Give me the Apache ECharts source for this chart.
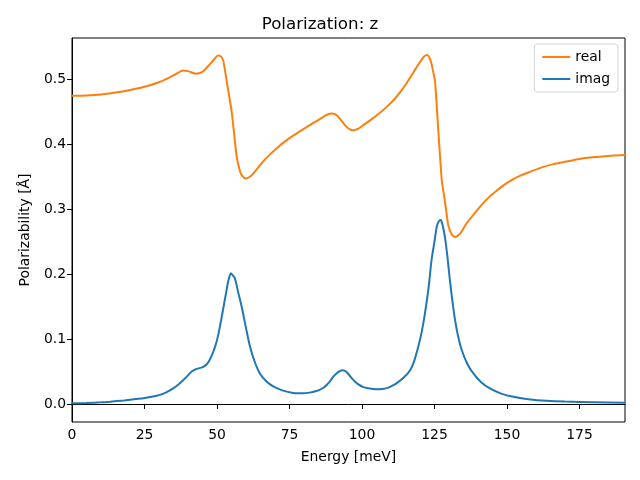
<!DOCTYPE html>
<html><head><meta charset="utf-8">
<script src="https://cdn.jsdelivr.net/npm/echarts@6/dist/echarts.min.js"></script>
<style>html,body{margin:0;padding:0;background:#fff}#c{width:640px;height:480px}</style>
</head><body><div id="c"></div>
<script>
const realX = [0,5,10,15,20,25,30,33,36,38.3,40,42.8,45,47,49,50.4,51.5,52.2,53.3,54.2,55.1,56,56.8,57.7,58.5,60,61.5,63,64.8,66.5,68.3,70.5,72.9,76,80.9,85,88,89.5,90.7,91.8,93.6,95,96.8,98.5,100.5,103,106.2,109,112,115,117.7,120,121.5,122.5,123.7,124.5,125.2,126.3,127.5,128.4,129.2,129.8,130.9,132.1,133.8,136.1,138.4,141.8,144,146.4,149,152.2,155,157.9,162,166,169.4,175,180.9,186,190.7];
const realY = [0.474,0.4745,0.476,0.479,0.483,0.488,0.495,0.501,0.508,0.513,0.512,0.508,0.511,0.520,0.530,0.536,0.534,0.527,0.498,0.474,0.448,0.412,0.380,0.362,0.352,0.347,0.350,0.357,0.367,0.376,0.384,0.393,0.402,0.412,0.426,0.437,0.445,0.447,0.446,0.442,0.432,0.425,0.421,0.423,0.429,0.437,0.448,0.459,0.473,0.491,0.510,0.526,0.535,0.537,0.528,0.512,0.496,0.422,0.345,0.318,0.292,0.274,0.261,0.257,0.262,0.278,0.291,0.309,0.319,0.328,0.337,0.346,0.352,0.357,0.364,0.369,0.372,0.377,0.380,0.382,0.383];
const imagX = [0,5,10,13.1,18,22,24.6,27.5,30.3,32.5,34.9,36.7,38.4,40,41.3,43,45.3,47,48.7,50,51,52.2,53.3,54,54.8,55.6,56.2,57.3,58.5,60,61.4,63,64.8,67,69.4,72.5,76.3,79.5,82,84,85.5,86.7,88,89,90.1,91.2,92.3,93.2,94.5,97,98.5,100.5,102.5,104.5,107,109.5,112,114.5,116.6,118,119.4,120.6,121.7,123,124,125,125.8,126.5,127.2,127.8,128.6,129.5,130.3,131.2,132.1,133.2,134.4,136.3,138.4,141,144.1,148,152.2,158,163.7,170,180,190.7];
const imagY = [0.001,0.0015,0.0025,0.0035,0.0055,0.0075,0.0087,0.011,0.014,0.018,0.024,0.030,0.037,0.044,0.050,0.054,0.057,0.064,0.080,0.098,0.119,0.148,0.175,0.191,0.201,0.197,0.193,0.172,0.150,0.117,0.088,0.065,0.047,0.035,0.027,0.021,0.017,0.0165,0.0175,0.0195,0.022,0.025,0.030,0.035,0.042,0.047,0.0505,0.052,0.050,0.037,0.031,0.026,0.024,0.0226,0.023,0.026,0.032,0.041,0.052,0.066,0.088,0.111,0.139,0.180,0.222,0.250,0.273,0.281,0.283,0.275,0.257,0.225,0.191,0.158,0.129,0.103,0.083,0.062,0.047,0.034,0.024,0.016,0.011,0.007,0.005,0.0038,0.0028,0.002];
const seriesNames = ['real','imag'];
const titleText = 'Polarization: z';
const xName = 'Energy [meV]';
const yName = 'Polarizability [Å]';

const font = 'DejaVu Sans';
const zip = (xs, ys) => xs.map((x, i) => [x, ys[i]]);
const chart = echarts.init(document.getElementById('c'), null, {renderer: 'canvas'});
chart.setOption({
  animation: false,
  backgroundColor: '#fff',
  title: {text: titleText, left: 'center', top: 11, textStyle: {fontFamily: font, fontSize: 16.7, fontWeight: 'normal', color: '#000'}},
  grid: {left: 72, right: 15, top: 38, bottom: 58, show: true, borderColor: '#000', borderWidth: 1, backgroundColor: 'transparent'},
  legend: {
    orient: 'vertical', right: 22, top: 44, itemWidth: 28, itemHeight: 10, itemGap: 8,
    backgroundColor: '#fff', borderColor: '#d5d5d5', borderWidth: 1, borderRadius: 3, padding: [6, 8, 6, 8],
    textStyle: {fontFamily: font, fontSize: 13.9, color: '#000'},
    data: seriesNames.map(n => ({name: n, icon: 'path://M0,0 L28,0 L28,2 L0,2 Z'}))
  },
  xAxis: {
    type: 'value', min: 0, max: 190.7, interval: 25,
    name: xName, nameLocation: 'middle', nameGap: 28,
    nameTextStyle: {fontFamily: font, fontSize: 13.9, color: '#000'},
    axisLine: {show: true, lineStyle: {color: '#000', width: 1}},
    axisTick: {show: true, inside: false, length: 5, lineStyle: {color: '#000'}},
    axisLabel: {fontFamily: font, fontSize: 13.9, color: '#000', margin: 6, showMaxLabel: false},
    splitLine: {show: false}
  },
  yAxis: {
    type: 'value', min: -0.0277, max: 0.563, splitNumber: 5,
    name: yName, nameLocation: 'middle', nameGap: 40, nameRotate: 90,
    nameTextStyle: {fontFamily: font, fontSize: 13.9, color: '#000'},
    axisLine: {show: true, lineStyle: {color: '#000', width: 1}},
    axisTick: {show: true, inside: false, length: 5, lineStyle: {color: '#000'}},
    axisLabel: {fontFamily: font, fontSize: 13.9, color: '#000', margin: 6, showMinLabel: false, showMaxLabel: false,
      formatter: v => v.toFixed(1)},
    splitLine: {show: false}
  },
  series: [
    {name: seriesNames[0], type: 'line', data: zip(realX, realY), showSymbol: false, symbol: 'none', smooth: 0.25,
      lineStyle: {color: '#ff7f0e', width: 2}, itemStyle: {color: '#ff7f0e'}, z: 3},
    {name: seriesNames[1], type: 'line', data: zip(imagX, imagY), showSymbol: false, symbol: 'none', smooth: 0.25,
      lineStyle: {color: '#1f77b4', width: 2}, itemStyle: {color: '#1f77b4'}, z: 2}
  ]
});
</script></body></html>
